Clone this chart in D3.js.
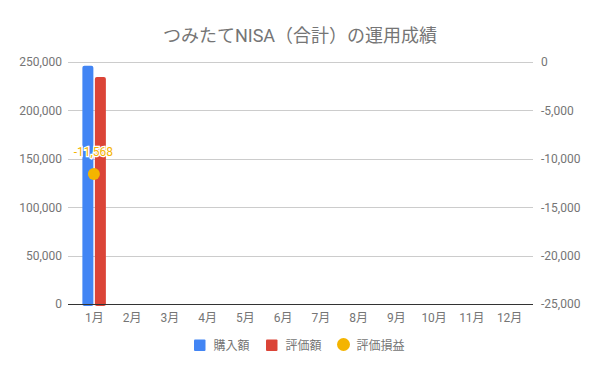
<!DOCTYPE html>
<html>
<head>
<meta charset="utf-8">
<script src="https://cdn.jsdelivr.net/npm/d3@7"></script>
<style>
  body { margin: 0; background: #fff; }
  text { font-family: Roboto, "Noto Sans CJK JP", sans-serif; }
</style>
</head>
<body>
<svg id="chart"></svg>
<script>
// chart data
var months = ["1月","2月","3月","4月","5月","6月","7月","8月","9月","10月","11月","12月"];
var purchase = [246000, null, null, null, null, null, null, null, null, null, null, null];
var valuation = [234432, null, null, null, null, null, null, null, null, null, null, null];
var profit = [-11568, null, null, null, null, null, null, null, null, null, null, null];
var leftTicks = [0, 50000, 100000, 150000, 200000, 250000];
var rightTicks = [0, -5000, -10000, -15000, -20000, -25000];
var seriesNames = ["購入額", "評価額", "評価損益"];

var width = 600, height = 371;
var plotLeft = 68, plotRight = 533, plotTop = 62, plotBottom = 304;
var grey = "#757575";
var colors = ["#4285f4", "#db4437", "#f4b400"];

var svg = d3.select("#chart").attr("width", width).attr("height", height);

var xScale = d3.scaleBand().domain(months).range([75.5, 528.5]);
var yLeft = d3.scaleLinear().domain([0, 250000]).range([plotBottom, plotTop]);
var yRight = d3.scaleLinear().domain([-25000, 0]).range([plotBottom, plotTop]);
// plain hyphen for negatives, like the original
var fmt = d3.formatLocale({decimal: ".", thousands: ",", grouping: [3], currency: ["", ""], minus: "-"}).format(",");

// title
svg.append("text")
    .attr("x", 300).attr("y", 42)
    .attr("text-anchor", "middle")
    .style("font-size", "18px")
    .attr("fill", grey)
    .text("つみたてNISA（合計）の運用成績");

// gridlines
svg.append("g")
  .selectAll("line")
  .data(leftTicks.slice(1))
  .enter()
  .append("line")
    .attr("x1", plotLeft).attr("x2", plotRight)
    .attr("y1", d => Math.round(yLeft(d)) + 0.5).attr("y2", d => Math.round(yLeft(d)) + 0.5)
    .attr("stroke", "#cccccc");

// left axis
var leftAxis = d3.axisLeft(yLeft).tickValues(leftTicks).tickFormat(fmt).tickSize(0).tickPadding(6);
svg.append("g")
    .attr("transform", "translate(" + plotLeft + ",0)")
    .call(leftAxis)
    .call(g => g.select(".domain").remove())
    .call(g => g.selectAll("text").attr("fill", grey).style("font-size", "12px"));

// right axis
var rightAxis = d3.axisRight(yRight).tickValues(rightTicks).tickFormat(fmt).tickSize(0).tickPadding(8);
svg.append("g")
    .attr("transform", "translate(" + plotRight + ",0)")
    .call(rightAxis)
    .call(g => g.select(".domain").remove())
    .call(g => g.selectAll("text").attr("fill", grey).style("font-size", "12px"));

// bars
var barW = 11;
var bars = [purchase, valuation];
bars.forEach(function(series, i) {
  svg.append("g")
    .selectAll("rect")
    .data(months.map((m, j) => ({m: m, v: series[j]})).filter(d => d.v != null))
    .enter()
    .append("rect")
      .attr("x", d => xScale(d.m) + xScale.bandwidth() / 2 - 12 + i * 12.5)
      .attr("y", d => yLeft(d.v))
      .attr("width", barW)
      .attr("height", d => plotBottom - yLeft(d.v) + 2)
      .attr("rx", 2)
      .attr("fill", colors[i]);
});

// x axis baseline + labels
var xAxis = d3.axisBottom(xScale).tickSize(0).tickPadding(9);
svg.append("g")
    .attr("transform", "translate(0," + plotBottom + ")")
    .call(xAxis)
    .call(g => g.select(".domain").remove())
    .call(g => g.selectAll("text").attr("fill", grey).style("font-size", "12px"));
svg.append("line")
    .attr("x1", plotLeft).attr("x2", plotRight)
    .attr("y1", plotBottom + 0.5).attr("y2", plotBottom + 0.5)
    .attr("stroke", "#333333");

// profit points
var pts = months.map((m, j) => ({m: m, v: profit[j]})).filter(d => d.v != null);
svg.append("g")
  .selectAll("circle")
  .data(pts)
  .enter()
  .append("circle")
    .attr("cx", d => xScale(d.m) + xScale.bandwidth() / 2 - 0.5)
    .attr("cy", d => yRight(d.v))
    .attr("r", 6)
    .attr("fill", colors[2]);

svg.append("g")
  .selectAll("text")
  .data(pts)
  .enter()
  .append("text")
    .attr("x", d => xScale(d.m) + xScale.bandwidth() / 2 - 1)
    .attr("y", d => yRight(d.v) - 18)
    .attr("text-anchor", "middle")
    .style("font-size", "12px")
    .attr("fill", colors[2])
    .attr("stroke", "#fff").attr("stroke-width", 2.5)
    .attr("paint-order", "stroke")
    .text(d => fmt(d.v));

// legend
var legendX = [194, 266, 337];
var legend = svg.append("g");
seriesNames.forEach(function(name, i) {
  if (i < 2) {
    legend.append("rect")
      .attr("x", legendX[i]).attr("y", 339.5)
      .attr("width", 11.5).attr("height", 11.5).attr("rx", 1)
      .attr("fill", colors[i]);
  } else {
    legend.append("circle")
      .attr("cx", legendX[i] + 6.5).attr("cy", 344.5).attr("r", 6.5)
      .attr("fill", colors[i]);
  }
  legend.append("text")
    .attr("x", legendX[i] + 19.5).attr("y", 349.5)
    .style("font-size", "12px")
    .attr("fill", grey)
    .text(name);
});
</script>
</body>
</html>
